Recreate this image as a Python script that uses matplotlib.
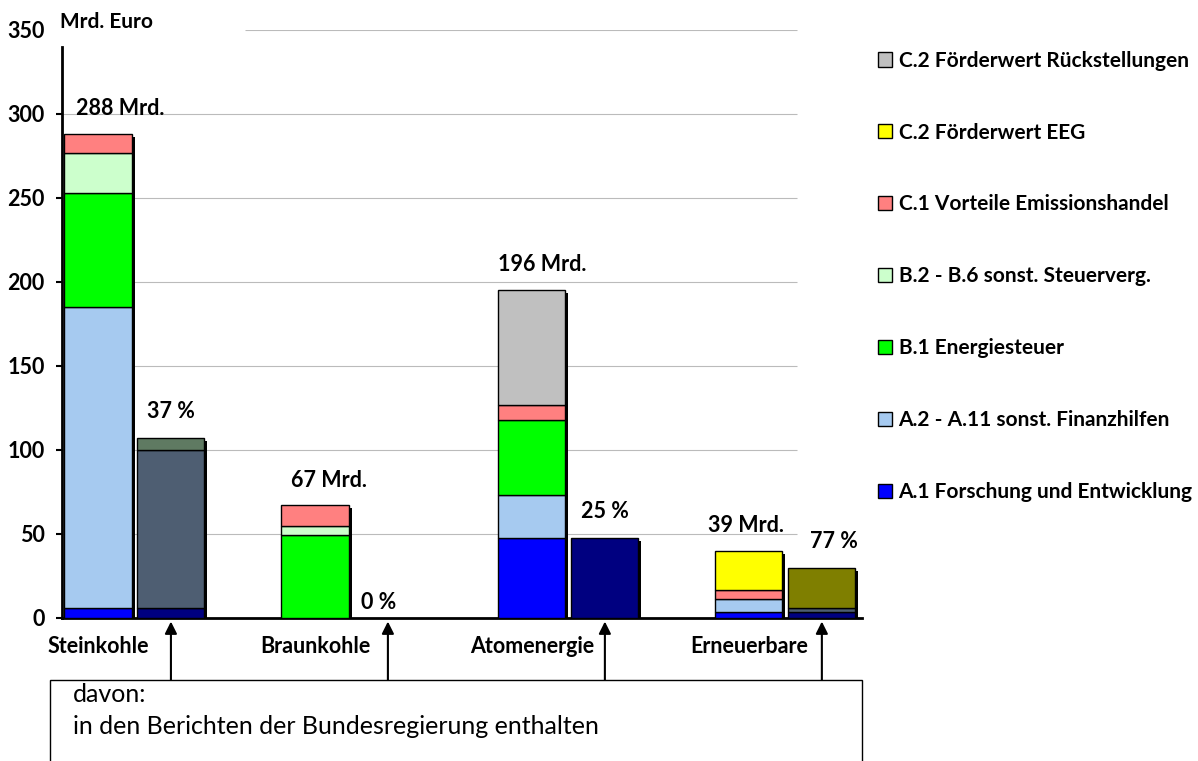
import matplotlib
matplotlib.use('Agg')
import matplotlib.pyplot as plt
from matplotlib.patches import Patch, Rectangle
import numpy as np

plt.rcParams['font.family'] = ['Lato', 'DejaVu Sans']

# ---- data (Mrd. Euro) ----
categories = ['Steinkohle', 'Braunkohle', 'Atomenergie', 'Erneuerbare']
a1_forschung = [6, 0, 47.5, 3.4]
a2_finanzhilfen = [179, 0, 26, 7.7]
b1_energiesteuer = [68, 49.5, 44.5, 0]
b2_steuerverg = [24, 5.5, 0, 0]
c1_emission = [11, 12, 9, 5.6]
c2_eeg = [0, 0, 0, 23.3]
c2_rueck = [0, 0, 68.5, 0]
total_labels = ['288 Mrd.', '67 Mrd.', '196 Mrd.', '39 Mrd.']

# davon in den Berichten der Bundesregierung enthalten
rep_a1 = [6, 0, 47.5, 3.4]
rep_a2 = [94, 0, 0, 2.7]
rep_b = [7, 0, 0, 0]
rep_eeg = [0, 0, 0, 23.5]
rep_labels = ['37 %', '0 %', '25 %', '77 %']

series = [
    ('A.1 Forschung und Entwicklung', a1_forschung, '#0000FF'),
    ('A.2 - A.11 sonst. Finanzhilfen', a2_finanzhilfen, '#A6CAF0'),
    ('B.1 Energiesteuer', b1_energiesteuer, '#00FF00'),
    ('B.2 - B.6 sonst. Steuerverg.', b2_steuerverg, '#CCFFCC'),
    ('C.1 Vorteile Emissionshandel', c1_emission, '#FF8080'),
    ('C.2 Förderwert EEG', c2_eeg, '#FFFF00'),
    ('C.2 Förderwert Rückstellungen', c2_rueck, '#C0C0C0'),
]
rep_series = [
    (rep_a1, '#000080'),
    (rep_a2, '#4E5E72'),
    (rep_b, '#5F7A62'),
    (rep_eeg, '#7F7F00'),
]

# label nudges (fraction of category spacing), as placed in the original
total_nudge = [0.10, 0.065, 0.045, -0.015]
rep_nudge = [0.0, -0.045, 0.0, 0.055]

# ---- figure ----
W, H = 1198, 761
fig = plt.figure(figsize=(W / 100, H / 100), dpi=100)
ax = fig.add_axes([62 / W, 1 - 618 / H, 800 / W, 588 / H])
x = np.arange(len(categories))
xmin, xmax = -0.334, 3.353
ax.set_xlim(xmin, xmax)
ax.set_ylim(0, 350)

w = 0.309
off = 0.168
dx, dy = 3 / 217, 1.8  # shadow offset

def stacked(xpos, parts):
    tops = np.sum([p for p, _ in parts], axis=0)
    ax.bar(xpos + dx, tops, w, bottom=-dy, color='black', zorder=2)
    bottom = np.zeros(len(xpos))
    for vals, col in parts:
        vals = np.array(vals, dtype=float)
        m = vals > 0
        ax.bar(xpos[m], vals[m], w, bottom=bottom[m], color=col,
               edgecolor='black', linewidth=1, zorder=3)
        bottom += vals
    return tops

main_tops = stacked(x - off, [(v, c) for _, v, c in series])
rep_tops = stacked(x + off, rep_series)

for i in range(len(categories)):
    ax.text(x[i] - off + total_nudge[i], main_tops[i] + 15, total_labels[i], ha='center',
            va='center', fontsize=15.5, fontweight='bold')
    ry = rep_tops[i] + 16 if rep_tops[i] > 0 else 9
    ax.text(x[i] + off + rep_nudge[i], ry, rep_labels[i], ha='center',
            va='center', fontsize=15.5, fontweight='bold')

# grid lines
for yv in range(50, 351, 50):
    start = 0.51 if yv == 350 else xmin
    ax.hlines(yv, start, 3.053, color='#BBBBBB', linewidth=0.8, zorder=1)

for s in ['top', 'right']:
    ax.spines[s].set_visible(False)
ax.spines['left'].set_linewidth(2)
ax.spines['bottom'].set_linewidth(2)
ax.spines['left'].set_bounds(0, 340)
ax.set_yticks(range(0, 351, 50))
ax.tick_params(axis='y', length=4.5, width=1.5, labelsize=15.5, pad=8)
ax.yaxis.get_major_ticks()[-1].tick1line.set_visible(False)
for lbl in ax.get_yticklabels():
    lbl.set_fontweight('bold')
ax.set_xticks([])

fig.text(60 / W, 1 - 22 / H, 'Mrd. Euro', fontsize=15, fontweight='bold', va='center', ha='left')

# category labels and arrows
for i, cat in enumerate(categories):
    ax.text(x[i] - off, -0.049, cat, ha='center', va='center', fontsize=15.5,
            fontweight='bold', transform=ax.get_xaxis_transform(), clip_on=False)
    ax.annotate('', xy=(x[i] + off, -0.006), xytext=(x[i] + off, -0.106),
                xycoords=ax.get_xaxis_transform(), textcoords=ax.get_xaxis_transform(),
                arrowprops=dict(arrowstyle='-|>', color='black', lw=1.5,
                                mutation_scale=18, shrinkA=0, shrinkB=0),
                annotation_clip=False)

# box below
fig.add_artist(Rectangle((50 / W, -0.05), 812 / W, (H - 680) / H + 0.05,
                         transform=fig.transFigure, facecolor='white',
                         edgecolor='black', linewidth=1))
fig.text(73 / W, 1 - 694 / H, 'davon:', fontsize=18, va='center', ha='left')
fig.text(73 / W, 1 - 726 / H, 'in den Berichten der Bundesregierung enthalten',
         fontsize=18, va='center', ha='left')

# legend
handles = [Patch(facecolor=c, edgecolor='black', linewidth=1) for _, _, c in series][::-1]
labels = [n for n, _, _ in series][::-1]
fig.legend(handles, labels, loc='upper left', bbox_to_anchor=(859 / W, 1 - 32 / H),
           frameon=False, prop={'weight': 'bold', 'size': 15},
           handlelength=0.67, handleheight=0.67, handletextpad=0.33,
           labelspacing=2.49)

fig.savefig('out.png', dpi=100)
